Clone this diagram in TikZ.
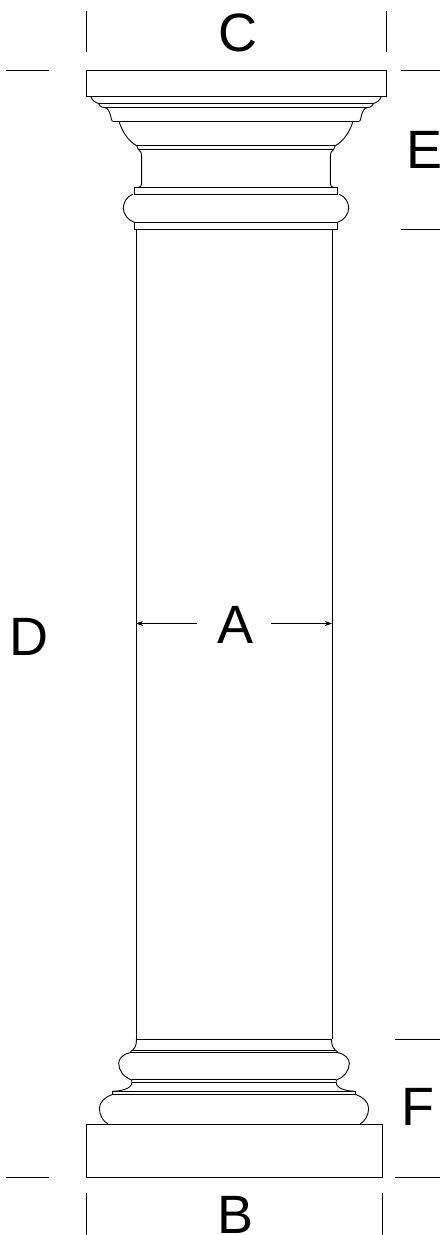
\documentclass[tikz,border=0pt]{standalone}
\usepackage{fontspec}
\setmainfont{Liberation Sans}
\usetikzlibrary{arrows.meta}
\tikzset{
  ink/.style={draw=black,line width=0.9pt,line join=miter},
  dim/.style={draw=black,line width=0.8pt},
  dimarrow/.style={dim,-{Stealth[length=7pt,width=5pt]}},
  letter/.style={font=\fontsize{54}{54}\selectfont,inner sep=0pt,text=black},
  zoomcap/.style={x=0.3333pt,y=-0.3333pt,shift={(236pt,-60pt)}},
  zoombase/.style={x=0.3333pt,y=-0.3333pt,shift={(234pt,-1030pt)}}
}
\begin{document}
\begin{tikzpicture}[x=1pt,y=-1pt]
\path[fill=white] (0,0) rectangle (440,1235);
\useasboundingbox (0,0) rectangle (440,1235);
% shaft
\draw[ink] (136,229) -- (136,1039);
\draw[ink] (332,229) -- (332,1039);
% capital
\draw[ink] (86,70) rectangle (386,96);
\begin{scope}[zoomcap]
\foreach \s in {-1,1}{
\begin{scope}[xscale=\s]
\draw[ink] (436,108) .. controls (432,122) and (422,128) .. (413,130)
  .. controls (410,136) and (407,142) .. (393,143)
  .. controls (375,146) and (376,184) .. (370,184);
\draw[ink] (351,184) .. controls (340,220) and (320,245) .. (298,257)
  -- (293,268);
\draw[ink] (293,268) .. controls (285,272) and (283,280) .. (283,295)
  -- (283,370) .. controls (283,378) and (287,382) .. (293,382);
\draw[ink] (305,382) -- (305,403);
\draw[ink] (305,487) -- (305,508);
\draw[ink] (310,403) .. controls (330,410) and (338,430) .. (338,445)
  .. controls (338,462) and (325,480) .. (305,487);
\end{scope}}
\draw[ink] (-413,130) -- (413,130);
\draw[ink] (-393,143) -- (393,143);
\draw[ink] (-370,184) -- (370,184);
\draw[ink] (-298,257) -- (298,257);
\draw[ink] (-293,268) -- (293,268);
\draw[ink] (-305,382) -- (305,382);
\draw[ink] (-305,403) -- (305,403);
\draw[ink] (-305,487) -- (305,487);
\draw[ink] (-305,508) -- (305,508);
\end{scope}
% base
\draw[ink] (86,1124) rectangle (382,1177);
\begin{scope}[zoombase]
\foreach \s in {-1,1}{
\begin{scope}[xscale=\s]
\draw[ink] (293,28) .. controls (292,50) and (300,58) .. (311,66);
\draw[ink] (311,68) .. controls (335,72) and (346,88) .. (346,100)
  .. controls (346,122) and (330,142) .. (307,150);
\draw[ink] (307,150) .. controls (302,172) and (325,182) .. (364,184) -- (364,193);
\draw[ink] (364,193) .. controls (385,200) and (404,215) .. (404,235)
  .. controls (404,255) and (392,275) .. (379,281);
\end{scope}}
\draw[ink] (-293,28) -- (293,28);
\draw[ink] (-307,60) -- (307,60);
\draw[ink] (-311,66) -- (311,66);
\draw[ink] (-307,148) -- (307,148);
\draw[ink] (-307,156) -- (307,156);
\draw[ink] (-364,184) -- (364,184);
\draw[ink] (-364,193) -- (364,193);
\end{scope}
% labels
\node[letter] (A) at (236,625) {A};
\node[letter] (B) at (236,1215) {B};
\node[letter] (C) at (237.5,33) {C};
\node[letter] (D) at (29,637) {D};
\node[letter] (E) at (424.5,149.5) {E};
\node[letter] (F) at (417.5,1107) {F};
% A arrows
\coordinate (al0) at (197,623.5);
\coordinate (al1) at (136,623.5);
\coordinate (ar0) at (271,623.5);
\coordinate (ar1) at (332,623.5);
\draw[dimarrow] (al0) -- (al1);
\draw[dimarrow] (ar0) -- (ar1);
% extension ticks
\coordinate (c1a) at (86,11); \coordinate (c1b) at (86,52);
\coordinate (c2a) at (386,11); \coordinate (c2b) at (386,52);
\coordinate (b1a) at (86,1193); \coordinate (b1b) at (86,1235);
\coordinate (b2a) at (382,1193); \coordinate (b2b) at (382,1235);
\coordinate (t1a) at (6,70); \coordinate (t1b) at (49,70);
\coordinate (t2a) at (401,70); \coordinate (t2b) at (440,70);
\coordinate (e1a) at (401,229); \coordinate (e1b) at (440,229);
\coordinate (f1a) at (395,1039); \coordinate (f1b) at (440,1039);
\coordinate (g1a) at (6,1177); \coordinate (g1b) at (49,1177);
\coordinate (g2a) at (395,1177); \coordinate (g2b) at (440,1177);
\draw[dim] (c1a) -- (c1b);
\draw[dim] (c2a) -- (c2b);
\draw[dim] (b1a) -- (b1b);
\draw[dim] (b2a) -- (b2b);
\draw[dim] (t1a) -- (t1b);
\draw[dim] (t2a) -- (t2b);
\draw[dim] (e1a) -- (e1b);
\draw[dim] (f1a) -- (f1b);
\draw[dim] (g1a) -- (g1b);
\draw[dim] (g2a) -- (g2b);
\end{tikzpicture}
\end{document}
